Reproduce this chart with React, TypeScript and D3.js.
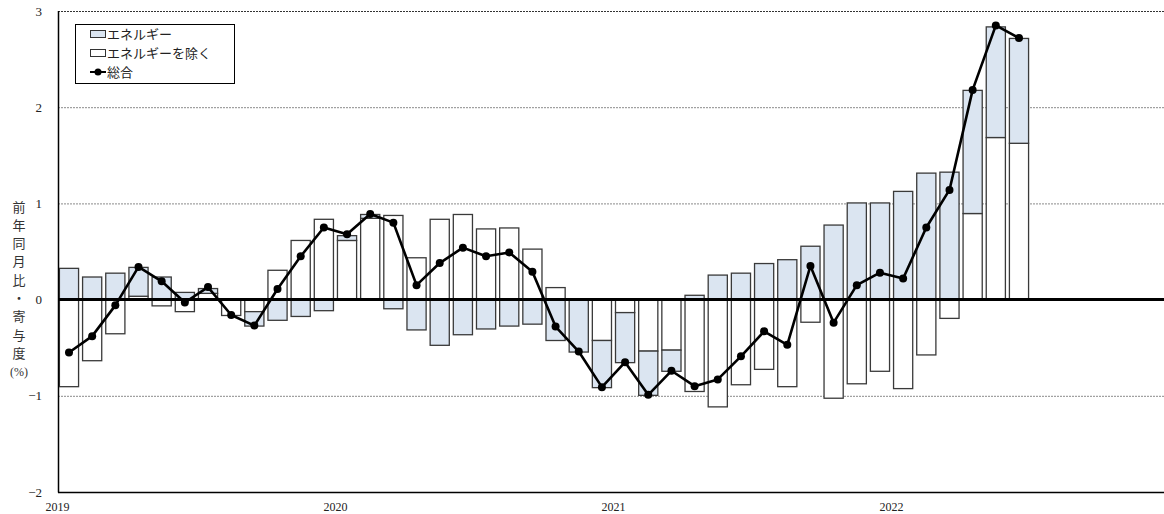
import { useEffect, useRef } from 'react';
import * as d3 from 'd3';

// 2019-01 .. 2022-06, monthly
const MONTHS = d3.range(42);
const YEARS = ['2019', '2020', '2021', '2022'];
const Y_TICKS = [3, 2, 1, 0, -1, -2];

// エネルギーを除く (white)
const EX_ENERGY = [
  -0.90, -0.63, -0.35, 0.04, -0.06, -0.12, 0.07, -0.16, -0.12, 0.31, 0.62, 0.84,
  0.62, 0.85, 0.88, 0.44, 0.84, 0.89, 0.74, 0.75, 0.53, 0.13, 0.00, -0.42,
  -0.13, -0.53, -0.52, -0.95, -1.11, -0.88, -0.72, -0.90, -0.23, -1.02, -0.87, -0.74,
  -0.92, -0.57, -0.19, 0.90, 1.69, 1.63,
];

// エネルギー (blue)
const ENERGY = [
  0.33, 0.24, 0.28, 0.30, 0.24, 0.08, 0.05, 0.00, -0.15, -0.21, -0.17, -0.11,
  0.05, 0.04, -0.09, -0.31, -0.47, -0.36, -0.30, -0.27, -0.25, -0.42, -0.54, -0.49,
  -0.52, -0.46, -0.22, 0.05, 0.26, 0.28, 0.38, 0.42, 0.56, 0.78, 1.01, 1.01,
  1.13, 1.32, 1.33, 1.28, 1.15, 1.09,
];

// 総合
const TOTAL = [
  -0.55, -0.38, -0.06, 0.34, 0.19, -0.03, 0.13, -0.16, -0.27, 0.11, 0.45, 0.75,
  0.68, 0.89, 0.80, 0.15, 0.38, 0.54, 0.45, 0.49, 0.29, -0.28, -0.54, -0.91,
  -0.65, -0.99, -0.74, -0.90, -0.83, -0.59, -0.33, -0.47, 0.35, -0.24, 0.15, 0.28,
  0.22, 0.75, 1.14, 2.18, 2.85, 2.72,
];

const BLUE = '#dbe5f1';
const SERIF = '"Liberation Serif", "DejaVu Serif", serif';
const JP = '"Noto Sans CJK JP", sans-serif';

export default function App() {
  const svgRef = useRef<SVGSVGElement>(null);

  useEffect(() => {
    if (!svgRef.current) return;
    const width = 1164;
    const height = 514;
    const left = 58;
    const top = 11;
    const bottom = 492;

    const svg = d3.select(svgRef.current);
    svg.selectAll('*').remove();
    svg.attr('width', width).attr('height', height);

    const x = d3.scaleBand<number>()
      .domain(d3.range(48))
      .range([57.4, 1169.6])
      .paddingInner(0.13)
      .paddingOuter(0.065);

    const y = d3.scaleLinear().domain([-2, 3]).range([bottom, top]);

    svg.append('rect').attr('width', width).attr('height', height).attr('fill', '#fff');

    // grid lines
    svg.append('g')
      .selectAll('line')
      .data(Y_TICKS.filter(t => t !== 0 && t !== -2))
      .join('line')
      .attr('x1', left).attr('x2', width)
      .attr('y1', d => y(d) + 0.5).attr('y2', d => y(d) + 0.5)
      .attr('stroke', d => (d === 3 ? '#333' : '#8a8a8a'))
      .attr('stroke-width', 1)
      .attr('stroke-dasharray', '2,1');

    // stacked bars: ex-energy first, energy on top of it
    const rows = MONTHS.map(i => ({ i, ex: EX_ENERGY[i], en: ENERGY[i] }));
    const stack = d3.stack<any>()
      .keys(['ex', 'en'])
      .offset(d3.stackOffsetDiverging);
    const series = stack(rows);

    const bw = x.bandwidth();
    series.forEach(s => {
      svg.append('g')
        .selectAll('rect')
        .data(s)
        .join('rect')
        .attr('x', d => (x(d.data.i) as number) + 0.5)
        .attr('y', d => y(Math.max(d[0], d[1])) + 0.5)
        .attr('width', bw - 1)
        .attr('height', d => Math.max(0, Math.abs(y(d[0]) - y(d[1]))))
        .attr('fill', s.key === 'en' ? BLUE : '#fff')
        .attr('stroke', '#3a3a3a')
        .attr('stroke-width', 1.3);
    });

    // zero line
    svg.append('line')
      .attr('x1', left).attr('x2', width)
      .attr('y1', y(0)).attr('y2', y(0))
      .attr('stroke', '#000').attr('stroke-width', 3);

    // axes frame
    svg.append('line')
      .attr('x1', left + 0.5).attr('x2', left + 0.5)
      .attr('y1', top).attr('y2', bottom + 0.5)
      .attr('stroke', '#000').attr('stroke-width', 1.5);
    svg.append('line')
      .attr('x1', left).attr('x2', width)
      .attr('y1', bottom + 0.5).attr('y2', bottom + 0.5)
      .attr('stroke', '#000').attr('stroke-width', 1.5);

    // total line
    const cx = (i: number) => (x(i) as number) + bw / 2;
    const line = d3.line<number>().x((_, i) => cx(i)).y(d => y(d));
    svg.append('path')
      .datum(TOTAL)
      .attr('d', line)
      .attr('fill', 'none')
      .attr('stroke', '#000')
      .attr('stroke-width', 2.6)
      .attr('stroke-linejoin', 'round');
    svg.append('g')
      .selectAll('circle')
      .data(TOTAL)
      .join('circle')
      .attr('cx', (_, i) => cx(i))
      .attr('cy', d => y(d))
      .attr('r', 4)
      .attr('fill', '#000');

    // y tick labels
    svg.append('g')
      .selectAll('text')
      .data(Y_TICKS)
      .join('text')
      .attr('x', 42)
      .attr('y', d => y(d))
      .attr('dy', '0.35em')
      .attr('text-anchor', 'end')
      .style('font-family', SERIF)
      .style('font-size', '13px')
      .style('fill', '#222')
      .text(d => (d < 0 ? `−${-d}` : `${d}`));

    // x year labels
    svg.append('g')
      .selectAll('text')
      .data(YEARS)
      .join('text')
      .attr('x', (_, k) => (x(k * 12) as number) - 1.5)
      .attr('y', 511)
      .attr('text-anchor', 'middle')
      .style('font-family', SERIF)
      .style('font-size', '12px')
      .style('fill', '#222')
      .text(d => d);

    // y axis title (vertical)
    const chars = ['前', '年', '同', '月', '比', '・', '寄', '与', '度'];
    svg.append('g')
      .selectAll('text')
      .data(chars)
      .join('text')
      .attr('x', 19)
      .attr('y', (_, k) => 207 + k * 18.3)
      .attr('dy', '0.35em')
      .attr('text-anchor', 'middle')
      .style('font-family', JP)
      .style('font-size', '13px')
      .style('fill', '#333')
      .text(d => d);
    svg.append('text')
      .attr('x', 19).attr('y', 372).attr('dy', '0.35em')
      .attr('text-anchor', 'middle')
      .style('font-family', SERIF)
      .style('font-size', '12px')
      .style('fill', '#333')
      .text('(%)');

    // legend
    const lg = svg.append('g');
    lg.append('rect')
      .attr('x', 75.5).attr('y', 24.5).attr('width', 159).attr('height', 59)
      .attr('fill', '#fff').attr('stroke', '#000').attr('stroke-width', 1);
    const items = [
      { label: 'エネルギー', kind: 'bar', fill: BLUE },
      { label: 'エネルギーを除く', kind: 'bar', fill: '#fff' },
      { label: '総合', kind: 'line', fill: '#000' },
    ];
    items.forEach((it, k) => {
      const cy = 34 + k * 19;
      if (it.kind === 'bar') {
        lg.append('rect')
          .attr('x', 90.5).attr('y', cy - 3.5).attr('width', 15).attr('height', 7)
          .attr('fill', it.fill).attr('stroke', '#333').attr('stroke-width', 1);
      } else {
        lg.append('line')
          .attr('x1', 90).attr('x2', 106).attr('y1', cy).attr('y2', cy)
          .attr('stroke', '#000').attr('stroke-width', 2);
        lg.append('circle').attr('cx', 98).attr('cy', cy).attr('r', 3.5).attr('fill', '#000');
      }
      lg.append('text')
        .attr('x', 107).attr('y', cy).attr('dy', '0.35em')
        .style('font-family', JP)
        .style('font-size', '13px')
        .style('fill', '#222')
        .text(it.label);
    });
  }, []);

  return (
    <svg ref={svgRef} style={{ position: 'absolute', left: 0, top: 0, display: 'block' }} />
  );
}
